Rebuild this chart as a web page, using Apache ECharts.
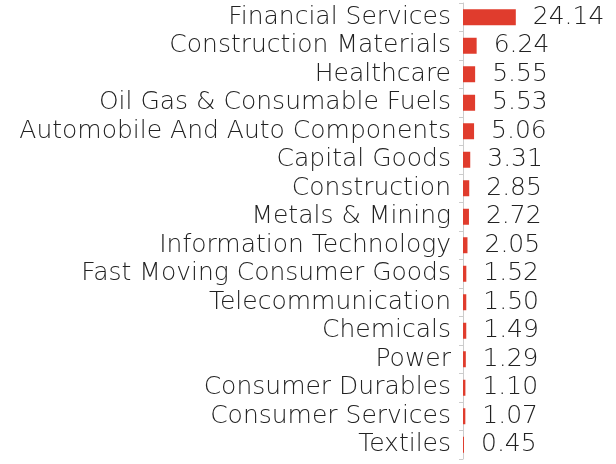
<!DOCTYPE html>
<html>
<head>
<meta charset="utf-8">
<script src="https://cdn.jsdelivr.net/npm/echarts@6/dist/echarts.min.js"></script>
<style>
  html, body { margin: 0; padding: 0; background: #fff; }
  #chart { width: 616px; height: 464px; }
</style>
</head>
<body>
<div id="chart"></div>
<script>
// sectors, top to bottom
var sectors = ['Financial Services', 'Construction Materials', 'Healthcare', 'Oil Gas & Consumable Fuels',
    'Automobile And Auto Components', 'Capital Goods', 'Construction', 'Metals & Mining',
    'Information Technology', 'Fast Moving Consumer Goods', 'Telecommunication', 'Chemicals',
    'Power', 'Consumer Durables', 'Consumer Services', 'Textiles'];
var weights = [24.14, 6.24, 5.55, 5.53, 5.06, 3.31, 2.85, 2.72, 2.05, 1.52, 1.50, 1.49, 1.29, 1.10, 1.07, 0.45];

var chart = echarts.init(document.getElementById('chart'));
var textFont = 'DejaVu Sans';

var option = {
    animation: false,
    grid: {
        left: 463,
        top: 3,
        width: 105,
        height: 456
    },
    xAxis: {
        type: 'value',
        min: 0,
        max: 48,
        show: false
    },
    yAxis: {
        type: 'category',
        inverse: true,
        data: sectors,
        axisLine: { show: true, lineStyle: { color: '#ccc', width: 1 } },
        axisTick: { show: true, length: 4, lineStyle: { color: '#ccc' } },
        axisLabel: {
            interval: 0,
            margin: 12,
            fontFamily: textFont,
            fontSize: 25,
            fontWeight: 200,
            color: '#222'
        }
    },
    series: [{
        type: 'bar',
        data: weights,
        barWidth: 16,
        itemStyle: { color: '#e03c2d' },
        label: {
            show: true,
            position: 'right',
            distance: 17,
            formatter: function (p) { return p.value.toFixed(2); },
            fontFamily: textFont,
            fontSize: 25,
            fontWeight: 200,
            color: '#222'
        }
    }]
};
chart.setOption(option);
</script>
</body>
</html>
